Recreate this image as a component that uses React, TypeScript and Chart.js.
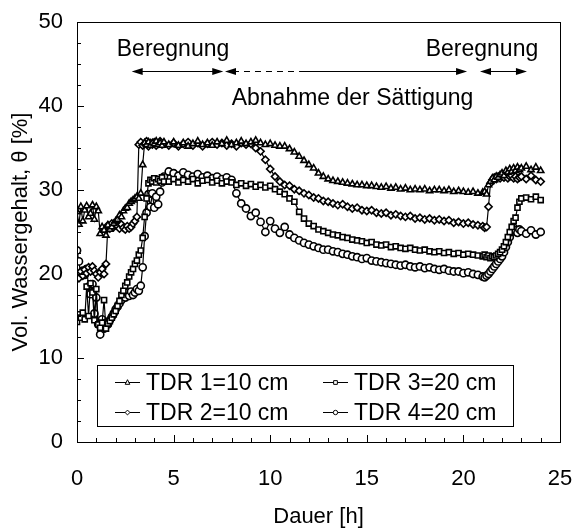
import React, { useEffect, useRef } from "react";
import { Chart, registerables } from "chart.js";

Chart.register(...registerables);

const FONT = "'Liberation Sans', Arial, sans-serif";

// time axis [h]
const hours = [
  0.0, 0.1, 0.2, 0.3, 0.4, 0.5, 0.6, 0.7, 0.8, 0.9,
  1.0, 1.1, 1.2, 1.3, 1.4, 1.5, 1.6, 1.7, 1.8, 1.9,
  2.0, 2.1, 2.2, 2.3, 2.4, 2.5, 2.6, 2.7, 2.8, 2.9,
  3.0, 3.1, 3.2, 3.3, 3.4, 3.5, 3.6, 3.7, 3.8, 3.9,
  4.0, 4.1, 4.2, 4.3, 4.4, 4.5,
  4.75, 5.0, 5.25, 5.5, 5.75, 6.0, 6.25, 6.5, 6.75, 7.0,
  7.25, 7.5, 7.75, 8.0, 8.25, 8.5, 8.75, 9.0, 9.25, 9.5,
  9.75, 10.0, 10.25, 10.5, 10.75, 11.0, 11.25, 11.5, 11.75, 12.0,
  12.25, 12.5, 12.75, 13.0, 13.25, 13.5, 13.75, 14.0, 14.25, 14.5,
  14.75, 15.0, 15.25, 15.5, 15.75, 16.0, 16.25, 16.5, 16.75, 17.0,
  17.25, 17.5, 17.75, 18.0, 18.25, 18.5, 18.75, 19.0, 19.25, 19.5,
  19.75, 20.0, 20.25, 20.5, 20.75,
  21.0, 21.1, 21.2, 21.3, 21.4, 21.5, 21.6, 21.7, 21.8, 21.9,
  22.0, 22.1, 22.2, 22.3, 22.4, 22.5, 22.6, 22.7, 22.8, 22.9, 23.0,
  23.25, 23.5, 23.75, 24.0,
];

const tdr1 = [
  27.4, 25.9, 28.0, 26.3, 27.6, 28.1, 26.8, 27.2, 28.2, 26.5,
  28.0, 27.5, 24.8, 25.6, 25.2, 24.6, 25.8, 25.3, 25.6, 26.0,
  26.3, 26.5, 27.0, 26.8, 27.5, 27.8, 27.9, 28.4, 28.6, 28.8,
  29.0, 29.2, 29.0, 29.6, 33.0, 35.6, 35.4, 35.7, 35.3, 35.6,
  35.5, 35.8, 35.4, 35.6, 35.3, 35.7,
  35.4, 35.7, 35.3, 35.6, 35.2, 35.5, 35.8, 35.4, 35.6, 35.3,
  35.7, 35.5, 35.9, 35.4, 35.6, 35.8, 35.5, 35.7, 35.9, 35.6,
  35.4, 35.5, 35.3, 35.2, 35.2, 34.9, 34.5, 34.0, 33.5, 33.0,
  32.6, 32.0, 31.6, 31.3, 31.1, 31.0, 30.9, 30.8, 30.7, 30.6,
  30.6, 30.5, 30.5, 30.4, 30.3, 30.4, 30.2, 30.3, 30.1, 30.2,
  30.0, 30.1, 30.0, 30.1, 29.9, 30.0, 30.0, 29.9, 30.0, 29.8,
  29.9, 29.8, 29.7, 29.8, 29.6,
  29.7, 29.8, 29.5, 30.6, 31.0, 31.4, 31.2, 31.6, 31.5, 31.8,
  32.0, 31.7, 32.3, 32.1, 32.5, 32.2, 32.6, 32.3, 32.7, 32.4, 32.6,
  32.8, 32.4, 32.7, 32.3,
];

const tdr2 = [
  20.0, 19.5, 20.3, 19.8, 20.5, 20.1, 20.8, 20.3, 20.9, 20.4,
  20.0, 19.6, 20.2, 20.6, 20.0, 21.2, 25.8, 25.4, 26.0, 25.6,
  26.1, 25.7, 25.4, 25.9, 25.5, 25.3, 25.7, 25.4, 25.6, 26.0,
  26.3, 26.8, 35.4, 35.7, 35.3, 35.5, 35.8, 35.2, 35.6, 35.4,
  35.7, 35.3, 35.5, 35.8, 35.4, 35.5,
  35.3, 35.6, 35.2, 35.5, 35.7, 35.3, 35.6, 35.2, 35.5, 35.7,
  35.4, 35.6, 35.3, 35.5, 35.2, 35.6, 35.4, 35.5, 35.0, 34.6,
  33.6, 32.5, 31.6, 31.0, 30.6, 30.5, 30.1, 29.9, 29.6, 29.4,
  29.1, 29.0, 28.7, 28.6, 28.4, 28.2, 28.3, 28.0, 27.8, 27.9,
  27.6, 27.5, 27.6, 27.3, 27.2, 27.3, 27.0, 27.1, 26.9, 26.8,
  26.9, 26.6, 26.7, 26.5, 26.6, 26.4, 26.5, 26.3, 26.4, 26.1,
  26.2, 26.0, 26.1, 25.9, 25.8,
  25.7, 25.5, 25.6, 28.0, 30.8, 31.2, 31.5, 31.3, 31.6, 31.4,
  31.7, 31.5, 31.8, 31.4, 31.6, 31.7, 31.4, 31.6, 31.3, 31.5, 31.6,
  31.3, 31.7, 31.2, 31.0,
];

const tdr3 = [
  14.3, 15.2, 14.8, 15.4, 14.6, 18.5, 15.0, 18.9, 17.8, 14.5,
  18.2, 14.0, 13.6, 14.2, 16.9, 13.5, 14.1, 14.4, 14.8, 15.2,
  15.6, 16.2, 16.8, 17.5, 18.0, 18.6, 19.0, 19.7, 20.2, 20.6,
  21.2, 21.6, 22.3, 22.8, 24.3, 26.8, 29.0, 30.8, 31.2, 31.0,
  31.4, 30.9, 31.3, 31.1, 31.5, 31.0,
  31.0, 31.3, 30.9, 31.2, 31.0, 31.3, 30.8, 31.1, 31.2, 30.9,
  31.1, 30.8, 31.0, 30.9, 30.6, 30.8, 30.5, 30.7, 30.4, 30.6,
  30.3, 30.5, 30.1, 29.8, 29.5, 29.0, 28.6, 27.4, 26.6, 26.0,
  25.7, 25.3, 25.1, 24.9, 24.7, 24.6, 24.4, 24.3, 24.1, 24.0,
  23.9, 23.7, 23.8, 23.5, 23.4, 23.5, 23.2, 23.3, 23.1, 23.0,
  23.1, 22.9, 22.8, 22.9, 22.7, 22.6, 22.7, 22.5, 22.6, 22.4,
  22.5, 22.3, 22.4, 22.3, 22.2,
  22.1, 22.3, 22.0, 22.2, 21.9, 22.1, 22.0, 22.2, 22.4, 22.6,
  22.9, 23.3, 23.8, 24.4, 25.0, 25.6, 26.3, 26.7, 27.9, 28.6, 29.0,
  29.1, 28.9, 29.2, 28.8,
];

const tdr4 = [
  22.8, 21.5, 19.8, 20.4, 19.9, 20.6, 18.5, 17.6, 18.8, 15.3,
  17.2, 14.0, 12.8, 14.6, 13.5, 14.2, 14.0, 14.5, 14.9, 15.3,
  15.8, 16.1, 16.5, 16.9, 17.4, 17.2, 17.8, 17.4, 17.9, 17.5,
  17.8, 18.2, 18.0, 18.6, 20.8, 24.5, 27.3, 29.5, 28.0, 29.6,
  27.9, 29.2, 28.3, 29.8, 30.9, 31.6,
  32.2, 32.0, 31.7, 32.1, 31.8, 31.6, 31.9, 31.5, 31.7, 31.4,
  31.6, 31.3, 31.5, 31.2, 29.6, 28.4, 27.8, 26.9, 27.3, 26.2,
  25.0, 26.3, 25.4, 24.9, 25.6, 24.7, 24.3, 24.0, 23.7, 23.5,
  23.3, 23.1, 22.9, 22.9, 22.7, 22.6, 22.4, 22.3, 22.1, 22.0,
  21.8, 21.9, 21.6, 21.5, 21.4, 21.3, 21.2, 21.1, 21.0, 21.1,
  20.9, 20.8, 20.9, 20.7, 20.8, 20.6, 20.5, 20.6, 20.4, 20.3,
  20.3, 20.1, 20.2, 20.0, 19.9,
  19.7, 19.6, 19.8, 20.0, 20.3, 20.6, 20.9, 21.2, 21.5, 21.8,
  22.1, 22.6, 23.2, 23.8, 24.4, 25.0, 25.5, 25.2, 24.9, 25.3, 25.1,
  24.8, 25.2, 24.7, 25.0,
];

const seriesLabels = ["TDR 1=10 cm", "TDR 2=10 cm", "TDR 3=20 cm", "TDR 4=20 cm"];
const seriesStyles = ["triangle", "rectRot", "rect", "circle"];
const seriesValues = [tdr1, tdr2, tdr3, tdr4];

const xTitle = "Dauer [h]";
const yTitle = "Vol. Wassergehalt, θ [%]";

// annotation texts and their [h, %] anchors
const labelTexts = ["Beregnung", "Abnahme der Sättigung", "Beregnung"];
const labelHours = [4.97, 14.26, 20.96];
const labelLevels = [46.0, 40.1, 46.0];
const arrowLevel = 44.17;
const arrowRain1 = [2.83, 7.57];
const arrowDry = [7.66, 11.54, 20.19];
const arrowRain2 = [20.86, 23.29];

function drawMarker(ctx: CanvasRenderingContext2D, style: string, x: number, y: number, r: number) {
  ctx.beginPath();
  if (style === "triangle") {
    const h = r * 1.5;
    ctx.moveTo(x, y - h * 0.85);
    ctx.lineTo(x + r * 1.05, y + h * 0.55);
    ctx.lineTo(x - r * 1.05, y + h * 0.55);
    ctx.closePath();
  } else if (style === "rectRot") {
    ctx.moveTo(x, y - r * 1.1);
    ctx.lineTo(x + r * 1.1, y);
    ctx.lineTo(x, y + r * 1.1);
    ctx.lineTo(x - r * 1.1, y);
    ctx.closePath();
  } else if (style === "rect") {
    ctx.rect(x - r * 0.85, y - r * 0.85, r * 1.7, r * 1.7);
  } else {
    ctx.arc(x, y, r, 0, Math.PI * 2);
  }
  ctx.fillStyle = "#fff";
  ctx.fill();
  ctx.stroke();
}

function head(ctx: CanvasRenderingContext2D, tip: number, y: number, dir: number) {
  ctx.beginPath();
  ctx.moveTo(tip, y);
  ctx.lineTo(tip - dir * 11, y - 3.5);
  ctx.lineTo(tip - dir * 11, y + 3.5);
  ctx.closePath();
  ctx.fill();
}

const decorPlugin = {
  id: "decor",
  afterDraw(chart: any) {
    const { ctx, chartArea: a } = chart;
    const xs = chart.scales.x;
    const ys = chart.scales.y;
    ctx.save();
    ctx.strokeStyle = "#000";
    ctx.fillStyle = "#000";
    ctx.lineWidth = 1;
    // frame
    ctx.strokeRect(Math.round(a.left) + 0.5, Math.round(a.top) + 0.5, Math.round(a.right - a.left), Math.round(a.bottom - a.top));
    // inward ticks
    ctx.beginPath();
    for (let h = 0; h <= 25; h += 1) {
      const px = Math.round(xs.getPixelForValue(h)) + 0.5;
      const len = h % 5 === 0 ? 7 : 4;
      ctx.moveTo(px, a.bottom);
      ctx.lineTo(px, a.bottom - len);
    }
    for (let v = 0; v <= 50; v += 2.5) {
      const py = Math.round(ys.getPixelForValue(v)) + 0.5;
      const len = v % 10 === 0 ? 7 : 4;
      ctx.moveTo(a.left, py);
      ctx.lineTo(a.left + len, py);
    }
    ctx.stroke();

    // annotations
    const ay = Math.round(ys.getPixelForValue(arrowLevel)) + 0.5;
    const X = (h: number) => xs.getPixelForValue(h);
    ctx.beginPath();
    ctx.moveTo(X(arrowRain1[0]) + 4, ay);
    ctx.lineTo(X(arrowRain1[1]) - 4, ay);
    ctx.moveTo(X(arrowDry[1]), ay);
    ctx.lineTo(X(arrowDry[2]) - 4, ay);
    ctx.moveTo(X(arrowRain2[0]) + 4, ay);
    ctx.lineTo(X(arrowRain2[1]) - 4, ay);
    ctx.stroke();
    ctx.setLineDash([6, 5]);
    ctx.beginPath();
    ctx.moveTo(X(arrowDry[0]) + 8, ay);
    ctx.lineTo(X(arrowDry[1]), ay);
    ctx.stroke();
    ctx.setLineDash([]);
    head(ctx, X(arrowRain1[0]), ay, -1);
    head(ctx, X(arrowRain1[1]), ay, 1);
    head(ctx, X(arrowDry[0]), ay, -1);
    head(ctx, X(arrowDry[2]), ay, 1);
    head(ctx, X(arrowRain2[0]), ay, -1);
    head(ctx, X(arrowRain2[1]), ay, 1);

    ctx.font = `23px ${FONT}`;
    ctx.textAlign = "center";
    ctx.textBaseline = "alphabetic";
    labelTexts.forEach((t, i) => {
      ctx.fillText(t, X(labelHours[i]), ys.getPixelForValue(labelLevels[i]));
    });

    // legend box
    const bx = a.left + 20;
    const by = a.bottom - 77;
    ctx.fillStyle = "#fff";
    ctx.fillRect(bx, by, 416, 61);
    ctx.strokeRect(Math.round(bx) + 0.5, Math.round(by) + 0.5, 416, 61);
    ctx.font = `23px ${FONT}`;
    ctx.textAlign = "left";
    ctx.textBaseline = "middle";
    const order = [0, 2, 1, 3];
    order.forEach((si, k) => {
      const col = k % 2;
      const row = Math.floor(k / 2);
      const lx = bx + (col === 0 ? 18 : 226);
      const ly = Math.round(by + 17 + row * 30) + 0.5;
      ctx.strokeStyle = "#000";
      ctx.lineWidth = 1;
      ctx.beginPath();
      ctx.moveTo(lx, ly);
      ctx.lineTo(lx + 25, ly);
      ctx.stroke();
      drawMarker(ctx, seriesStyles[si], lx + 12.5, ly, 2.2);
      ctx.fillStyle = "#000";
      ctx.fillText(seriesLabels[si], lx + 31, ly + 1);
    });
    ctx.restore();
  },
};

export default function App() {
  const ref = useRef<HTMLCanvasElement | null>(null);
  useEffect(() => {
    if (!ref.current) return;
    Chart.defaults.font.family = FONT;
    const datasets = seriesValues.map((vals, i) => ({
      label: seriesLabels[i],
      data: hours.map((h, j) => ({ x: h, y: vals[j] })),
      borderColor: "#000",
      borderWidth: 1.2,
      backgroundColor: "#fff",
      pointStyle: seriesStyles[i],
      pointRadius: 3.6,
      pointBorderWidth: 1.6,
      pointBackgroundColor: "#fff",
      pointBorderColor: "#000",
      fill: false,
      tension: 0,
    }));
    const chart = new Chart(ref.current, {
      type: "line",
      data: { datasets },
      options: {
        animation: false,
        responsive: false,
        devicePixelRatio: 1,
        layout: { padding: { left: 0, top: 22, right: 15, bottom: 0 } },
        plugins: { legend: { display: false }, tooltip: { enabled: false } },
        scales: {
          x: {
            type: "linear",
            min: 0,
            max: 25,
            ticks: { stepSize: 5, padding: 0, color: "#000", font: { family: FONT, size: 22, lineHeight: 3.364 }, maxRotation: 0, autoSkip: false },
            grid: { display: false, drawTicks: false },
            border: { display: false },
            title: { display: true, text: xTitle, color: "#000", font: { family: FONT, size: 22, lineHeight: 1.0 }, padding: 0 },
            afterFit: (s: any) => { s.height = 86; },
          },
          y: {
            type: "linear",
            min: 0,
            max: 50,
            ticks: { stepSize: 10, padding: 14, color: "#000", font: { family: FONT, size: 22, lineHeight: 0.5 } },
            grid: { display: false, drawTicks: false },
            border: { display: false },
            title: { display: true, text: yTitle, color: "#000", font: { family: FONT, size: 22 }, padding: { top: 8, bottom: 0 } },
            afterFit: (s: any) => { s.width = 77; },
          },
        },
      } as any,
      plugins: [decorPlugin],
    });
    return () => chart.destroy();
  }, []);
  return (
    <div style={{ position: "fixed", left: 0, top: 0, width: 575, height: 528, background: "#fff" }}>
      <canvas ref={ref} width={575} height={528} style={{ display: "block" }} />
    </div>
  );
}
